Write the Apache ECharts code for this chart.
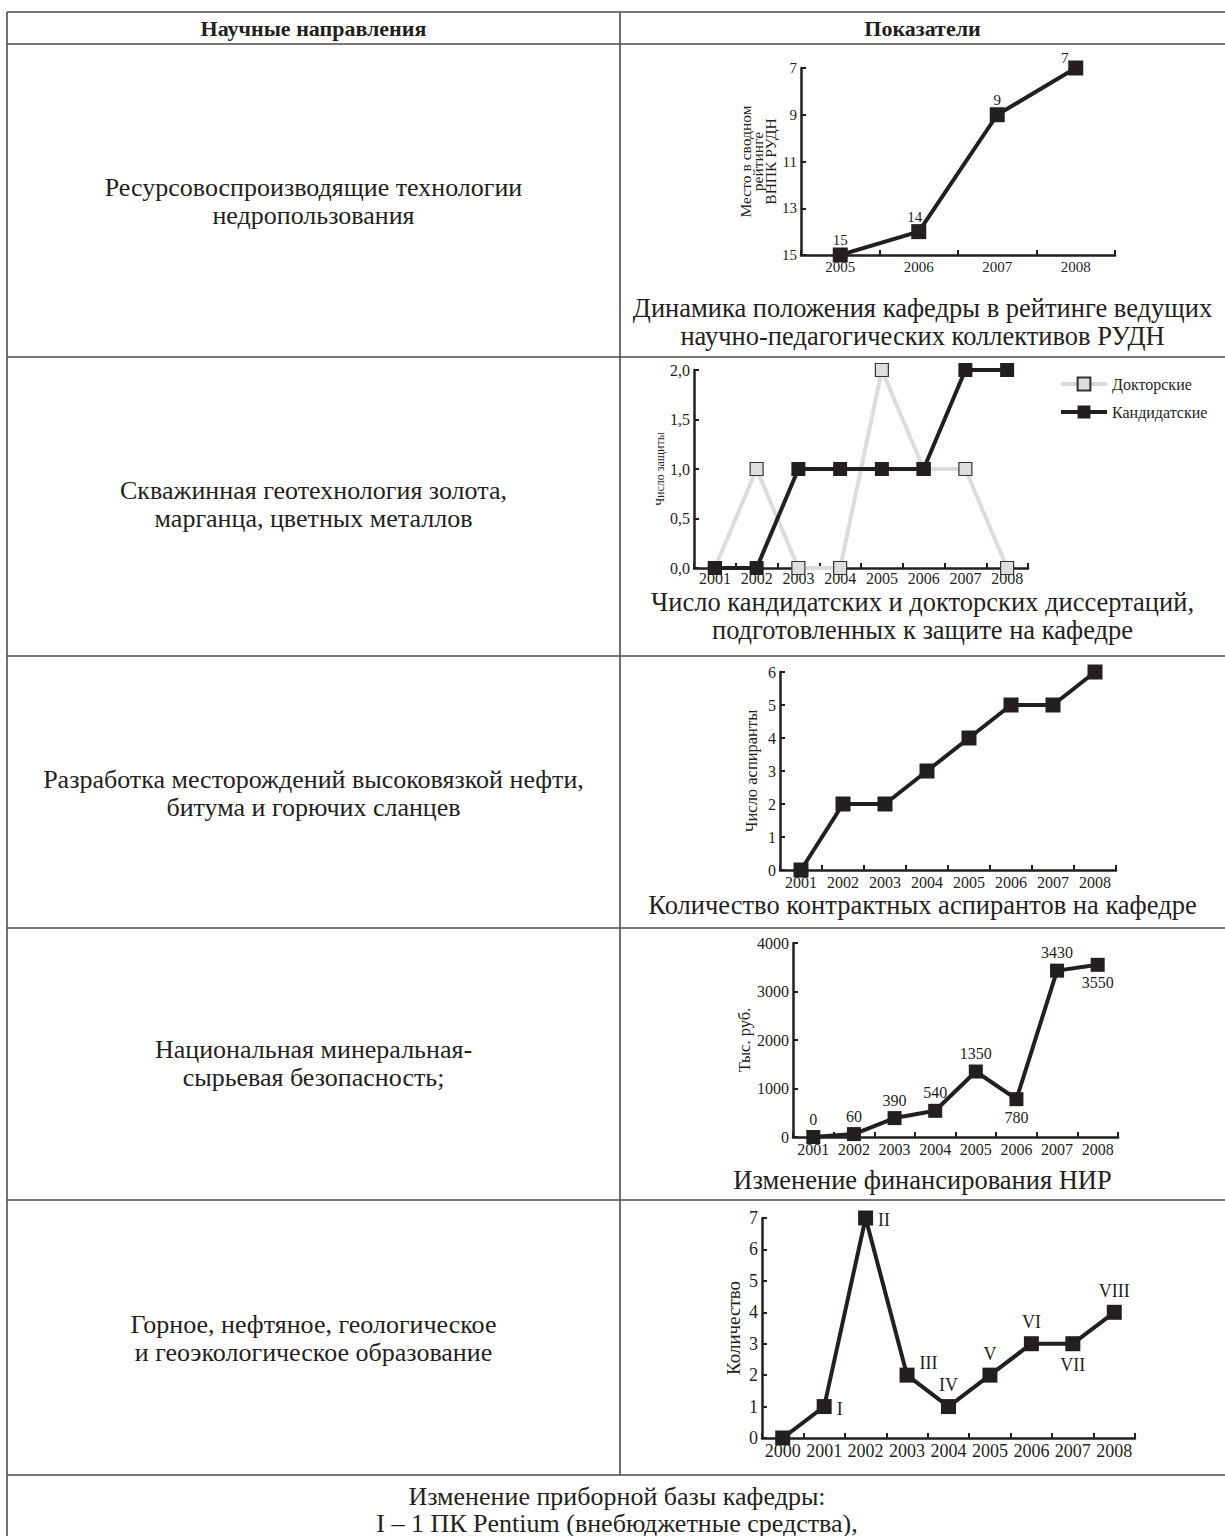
<!DOCTYPE html>
<html>
<head>
<meta charset="utf-8">
<script src="https://cdn.jsdelivr.net/npm/echarts@6/dist/echarts.min.js"></script>
<style>
html,body{margin:0;padding:0;background:#fff;}
#c{width:1225px;height:1536px;}
</style>
</head>
<body>
<div id="c"></div>
<script>
// ---------- data ----------
const headerTexts = ['Научные направления', 'Показатели'];
const directions = [
  ['Ресурсовоспроизводящие технологии', 'недропользования'],
  ['Скважинная геотехнология золота,', 'марганца, цветных металлов'],
  ['Разработка месторождений высоковязкой нефти,', 'битума и горючих сланцев'],
  ['Национальная минеральная-', 'сырьевая безопасность;'],
  ['Горное, нефтяное, геологическое', 'и геоэкологическое образование']
];
const captions = [
  ['Динамика положения кафедры в рейтинге ведущих', 'научно-педагогических коллективов РУДН'],
  ['Число кандидатских и докторских диссертаций,', 'подготовленных к защите на кафедре'],
  ['Количество контрактных аспирантов на кафедре'],
  ['Изменение финансирования НИР']
];
const footerTexts = ['Изменение приборной базы кафедры:', 'I – 1 ПК Pentium (внебюджетные средства),'];

const years1 = ['2005', '2006', '2007', '2008'];
const rankValues = [15, 14, 9, 7];

const years2 = ['2001', '2002', '2003', '2004', '2005', '2006', '2007', '2008'];
const doctoralValues = [0, 1, 0, 0, 2, 1, 1, 0];
const candidateValues = [0, 0, 1, 1, 1, 1, 2, 2];
const seriesNames2 = ['Докторские', 'Кандидатские'];

const years3 = ['2001', '2002', '2003', '2004', '2005', '2006', '2007', '2008'];
const postgradValues = [0, 2, 2, 3, 4, 5, 5, 6];

const years4 = ['2001', '2002', '2003', '2004', '2005', '2006', '2007', '2008'];
const fundingValues = [0, 60, 390, 540, 1350, 780, 3430, 3550];

const years5 = ['2000', '2001', '2002', '2003', '2004', '2005', '2006', '2007', '2008'];
const equipmentValues = [0, 1, 7, 2, 1, 2, 3, 3, 4];
const equipmentMarks = ['', 'I', 'II', 'III', 'IV', 'V', 'VI', 'VII', 'VIII'];

const axisNames = ['Место в сводном\nрейтинге\nВНПК РУДН', 'Число защиты', 'Число аспиранты', 'Тыс. руб.', 'Количество'];

// ---------- layout / style (not data) ----------
const FONT = 'Liberation Serif';
const INK = '#231f20';
const RULE = '#4d4d4d';
const W = 1225;
const colX = 620, leftX = 7;
const rowY = [12, 44, 357, 656, 928, 1200, 1475];

const grids = [
  {left: 801, top: 68, width: 314, height: 187},
  {left: 694, top: 370, width: 334, height: 198},
  {left: 780, top: 672, width: 336, height: 198},
  {left: 793, top: 943, width: 325, height: 194},
  {left: 762, top: 1218, width: 373, height: 220}
];
const tickFont = [15, 16, 16, 16, 18];
const nameFont = [15.5, 12, 16.5, 16.5, 19];
const xLabelMargin = [4, 2, 4, 4, 4];

function xAxisCfg(i, cats) {
  return {
    gridIndex: i, type: 'category', data: cats, boundaryGap: true,
    axisLine: {show: true, onZero: false, lineStyle: {color: INK, width: 2.5}},
    axisTick: {show: true, inside: true, length: 5, lineStyle: {color: INK, width: 2}},
    axisLabel: {fontFamily: FONT, fontSize: tickFont[i], color: INK, margin: xLabelMargin[i], interval: 0},
    splitLine: {show: false}
  };
}
function yAxisCfg(i, min, max, interval, name, gap, extra) {
  return Object.assign({
    gridIndex: i, type: 'value', min: min, max: max, interval: interval,
    name: name, nameLocation: 'middle', nameRotate: 90, nameGap: gap,
    nameTextStyle: {fontFamily: FONT, fontSize: nameFont[i], color: INK, lineHeight: 12.5},
    axisLine: {show: true, lineStyle: {color: INK, width: 2.5}},
    axisTick: {show: true, inside: true, length: 5, lineStyle: {color: INK, width: 2}},
    axisLabel: {fontFamily: FONT, fontSize: tickFont[i], color: INK, margin: 4,
      formatter: function (v) { return String(v); }},
    splitLine: {show: false}
  }, extra || {});
}
function lineSeries(i, name, data, opts) {
  return Object.assign({
    type: 'line', name: name, xAxisIndex: i, yAxisIndex: i, data: data,
    symbol: 'rect', symbolSize: 15,
    lineStyle: {color: INK, width: 4},
    itemStyle: {color: INK, borderColor: INK, borderWidth: 0},
    label: {show: false}, animation: false
  }, opts || {});
}
function labelBase(i) { return {fontFamily: FONT, fontSize: tickFont[i], color: INK}; }

// label placements (styling, kept apart from data)
const rankLabelOffset = [[0, 0], [-4, 0], [0, 0], [-11, 5]];
const fundingLabelPos = ['top', 'top', 'top', 'top', 'top', 'bottom', 'top', 'bottom'];
const equipLabelPos = [null, 'right', 'right', 'right', 'top', 'top', 'top', 'bottom', 'top'];
const equipLabelOffset = [null, [0, 2], [0, 2], [0, -12], [0, 0], [0, 0], [0, 0], [0, 0], [0, 0]];

// ---------- graphics: table rules and texts ----------
const graphics = [];
function hline(y, x1, x2) {
  graphics.push({type: 'line', shape: {x1: x1, y1: y, x2: x2, y2: y}, style: {stroke: RULE, lineWidth: 1.6}, silent: true});
}
function vline(x, y1, y2) {
  graphics.push({type: 'line', shape: {x1: x, y1: y1, x2: x, y2: y2}, style: {stroke: RULE, lineWidth: 1.6}, silent: true});
}
function txt(s, x, y, size, bold) {
  graphics.push({type: 'text', x: x, y: y, silent: true,
    style: {text: s, fill: INK, fontFamily: FONT, fontSize: size, fontWeight: bold ? 'bold' : 'normal',
      align: 'center', verticalAlign: 'middle', textAlign: 'center', textVerticalAlign: 'middle'}});
}
rowY.forEach(function (y) { hline(y, leftX, W); });
vline(leftX, rowY[0], 1536);
vline(colX, rowY[0], rowY[6]);

const leftC = (leftX + colX) / 2;
const rightC = (colX + W) / 2;
txt(headerTexts[0], leftC, 28, 22, true);
txt(headerTexts[1], rightC, 28, 22, true);

const dirY = [187, 490, 779, 1049, 1324];
directions.forEach(function (lines, i) {
  lines.forEach(function (s, j) { txt(s, leftC, dirY[i] + j * 28, 26, false); });
});
const capY = [308, 602, 905, 1180];
captions.forEach(function (lines, i) {
  lines.forEach(function (s, j) { txt(s, rightC, capY[i] + j * 27.5, 26.5, false); });
});
footerTexts.forEach(function (s, j) { txt(s, 617, 1496 + j * 27, 26, false); });

// ---------- option ----------
const option = {
  backgroundColor: '#fff',
  animation: false,
  textStyle: {fontFamily: FONT},
  grid: grids,
  legend: {
    data: seriesNames2, orient: 'vertical', left: 1054, top: 371,
    itemWidth: 46, itemHeight: 16, itemGap: 12,
    lineStyle: {width: 4},
    textStyle: {fontFamily: FONT, fontSize: 16, color: INK}
  },
  xAxis: [
    xAxisCfg(0, years1), xAxisCfg(1, years2), xAxisCfg(2, years3), xAxisCfg(3, years4), xAxisCfg(4, years5)
  ],
  yAxis: [
    yAxisCfg(0, 7, 15, 2, axisNames[0], 21, {inverse: true}),
    yAxisCfg(1, 0, 2, 0.5, axisNames[1], 28, {axisLabel: {fontFamily: FONT, fontSize: tickFont[1], color: INK, margin: 4,
      formatter: function (v) { return v.toFixed(1).replace('.', ','); }}}),
    yAxisCfg(2, 0, 6, 1, axisNames[2], 22),
    yAxisCfg(3, 0, 4000, 1000, axisNames[3], 40),
    yAxisCfg(4, 0, 7, 1, axisNames[4], 22)
  ],
  series: [
    lineSeries(0, 'rank', rankValues.map(function (v, k) {
      return {value: v, label: {offset: rankLabelOffset[k]}};
    }), {label: Object.assign({show: true, position: 'top', distance: 0}, labelBase(0))}),
    lineSeries(1, seriesNames2[0], doctoralValues, {
      symbolSize: 13,
      lineStyle: {color: '#dcdcdc', width: 4},
      itemStyle: {color: '#dedede', borderColor: '#333', borderWidth: 1.2}
    }),
    lineSeries(1, seriesNames2[1], candidateValues, {symbolSize: 14}),
    lineSeries(2, 'postgrads', postgradValues),
    lineSeries(3, 'funding', fundingValues.map(function (v, k) {
      return {value: v, label: {position: fundingLabelPos[k]}};
    }), {symbolSize: 14, label: Object.assign({show: true, distance: 3}, labelBase(3))}),
    lineSeries(4, 'equipment', equipmentValues.map(function (v, k) {
      const item = {value: v};
      if (equipLabelPos[k]) {
        item.label = {show: true, position: equipLabelPos[k], offset: equipLabelOffset[k], formatter: equipmentMarks[k]};
      } else {
        item.label = {show: false};
      }
      return item;
    }), {label: Object.assign({show: true, distance: 5}, labelBase(4))})
  ],
  graphic: {elements: graphics}
};

const chart = echarts.init(document.getElementById('c'), null, {renderer: 'svg', width: 1225, height: 1536});
chart.setOption(option);
</script>
</body>
</html>
